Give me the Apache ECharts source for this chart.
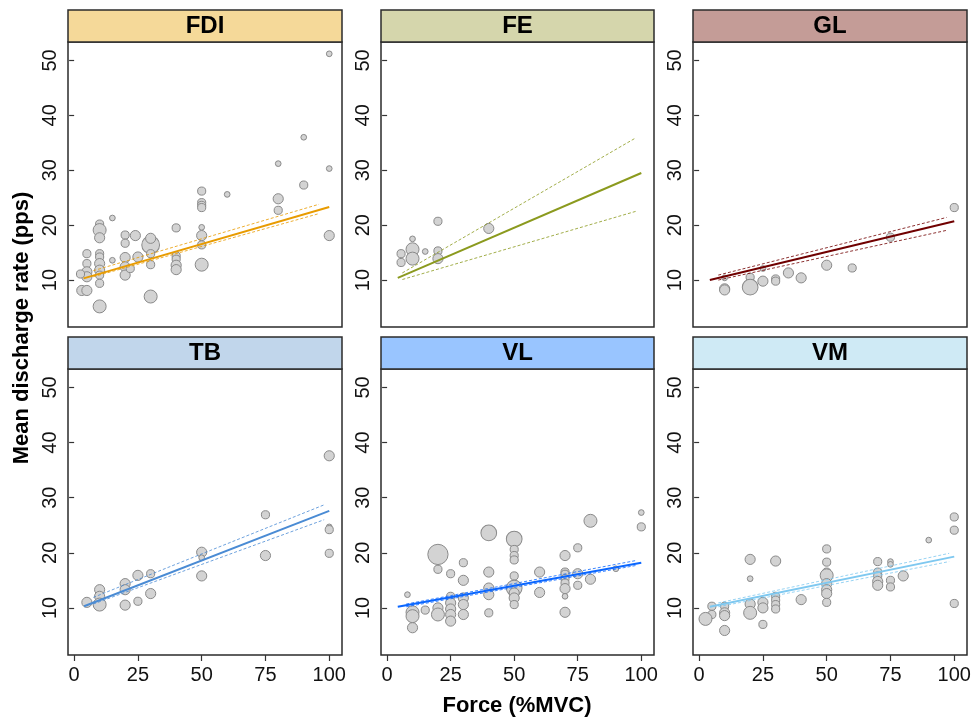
<!DOCTYPE html>
<html>
<head>
<meta charset="utf-8">
<script src="https://cdn.jsdelivr.net/npm/echarts@6/dist/echarts.min.js"></script>
<style>
html,body{margin:0;padding:0;background:#fff;}
#chart{width:973px;height:718px;}
</style>
</head>
<body>
<div id="chart"></div>
<script>
// ---- data ----
const muscles = ['FDI', 'FE', 'GL', 'TB', 'VL', 'VM'];
const xTicks = [0, 25, 50, 75, 100];
const yTicks = [10, 20, 30, 40, 50];

// points: [force %MVC, mean discharge rate pps, weight]
const fdiPoints = [[100,51.2,4],[90,36.0,4],[80,31.2,4],[100,30.3,4],[90,27.3,10],[60,25.6,4],[50,26.2,10],[50,24.1,10],[50,23.6,10],[50,23.2,10],[80,24.8,17],[80,22.7,10],[100,18.1,17],[50,19.6,4],[50,18.1,17],[50,16.4,10],[50,12.8,30],[40,19.5,10],[40,14.4,10],[40,13.8,10],[40,12.7,17],[40,11.9,17],[30,16.4,60],[30,17.6,17],[30,14.8,10],[30,12.8,10],[30,7.0,30],[25,14.2,17],[24,18.1,17],[20,18.2,10],[20,16.7,10],[20,14.1,17],[20,12.4,17],[20,10.9,17],[22,12.1,10],[15,21.3,4],[15,13.6,4],[10,20.2,10],[10,19.1,30],[10,17.7,17],[10,14.8,10],[10,14.2,10],[10,13.0,17],[10,11.8,17],[10,10.9,10],[10,9.4,10],[10,5.2,30],[5,14.8,10],[5,13.0,10],[5,11.5,17],[5,10.6,17],[2.5,11.1,10],[3,8.1,17],[5,8.1,17]];
const fePoints = [[5.5,14.8,10],[5.5,13.2,10],[10,17.5,4],[10,15.6,30],[10,13.9,30],[15,15.2,4],[20,20.7,10],[20,15.3,10],[20,13.9,17],[40,19.4,17]];
const glPoints = [[100,23.2,10],[75,17.8,10],[60,12.2,10],[50,12.7,17],[40,10.4,17],[35,11.3,17],[30,10.2,10],[30,9.8,10],[25,9.8,17],[25,12.1,4],[20,10.5,10],[20,8.7,46],[10,10.4,4],[10,8.4,17],[10,8.2,17]];
const tbPoints = [[100,37.6,17],[100,24.7,4],[100,24.2,10],[100,19.9,10],[75,26.9,10],[75,19.5,17],[50,20.1,17],[50,19.1,4],[50,15.8,17],[30,16.2,10],[30,12.6,17],[25,15.9,17],[25,11.2,10],[20,14.4,17],[20,13.3,17],[20,10.5,17],[10,13.3,17],[10,12.1,17],[10,10.6,30],[5,11.0,17]];
const vlPoints = [[100,27.3,4],[100,24.7,10],[80,25.8,30],[75,20.9,10],[70,19.5,17],[70,16.5,10],[70,16.1,10],[70,15.3,10],[70,14.5,10],[70,13.5,17],[70,12.1,4],[70,9.2,17],[75,16.2,17],[75,14.1,10],[80,15.2,17],[90,17.1,4],[60,16.5,17],[60,12.8,17],[50,22.5,46],[50,20.6,10],[50,19.5,10],[50,18.7,10],[50,15.8,10],[50,13.6,46],[50,12.7,17],[50,11.8,17],[50,10.6,10],[40,23.6,46],[40,16.5,17],[40,13.6,17],[40,12.4,17],[40,9.1,10],[30,18.2,10],[30,15.0,17],[30,11.8,17],[30,10.6,17],[30,8.8,17],[25,16.2,10],[25,12.1,10],[25,10.9,17],[25,9.8,17],[25,8.8,17],[25,7.6,17],[20,19.7,80],[20,17.0,10],[20,10.0,17],[20,8.8,30],[15,9.6,10],[10,9.2,30],[10,8.5,30],[10,6.4,17],[8,12.4,4]];
const vmPoints = [[100,26.5,10],[100,24.1,10],[100,10.8,10],[90,22.3,4],[80,15.8,17],[75,18.4,4],[75,17.9,4],[75,15.0,10],[75,13.8,10],[70,18.4,10],[70,16.5,10],[70,15.8,10],[70,14.8,17],[70,14.1,17],[50,20.7,10],[50,18.3,10],[50,16.5,10],[50,15.9,30],[50,14.4,17],[50,13.3,17],[50,12.6,17],[50,11.0,10],[40,11.5,17],[30,18.5,17],[30,12.1,10],[30,11.4,10],[30,10.6,10],[30,9.8,10],[25,7.0,10],[25,11.0,17],[25,10.0,17],[20,18.8,17],[20,15.3,4],[20,10.7,17],[20,9.1,30],[10,10.3,10],[10,9.1,17],[10,8.6,17],[10,5.9,17],[5,10.3,10],[5,8.8,10],[2.5,8.0,30]];

// fitted lines and confidence bounds: [[x0,y0],[x1,y1]]
const fdiFit = [[3.7,10.3],[100,23.3]], fdiUpper = [[7.5,11.7],[96,23.8]], fdiLower = [[7.5,10.6],[96,22.1]];
const feFit = [[4.2,10.4],[100,29.5]], feUpper = [[6,11.3],[97.5,35.8]], feLower = [[6,10.1],[98.5,22.6]];
const glFit = [[4.2,10.0],[100,20.7]], glUpper = [[7.5,10.9],[97,21.4]], glLower = [[7.5,10.0],[97.5,19.1]];
const tbFit = [[3.9,10.3],[100,27.6]], tbUpper = [[7.5,11.9],[98,28.7]], tbLower = [[7.5,10.7],[98,26.0]];
const vlFit = [[4.2,10.2],[100,18.2]], vlUpper = [[7.5,10.7],[98,18.6]], vlLower = [[7.5,10.2],[98,17.7]];
const vmFit = [[4.2,10.2],[100,19.3]], vmUpper = [[7.5,10.9],[98,19.9]], vmLower = [[7.5,10.2],[98,18.4]];

// ---- styles / layout ----
const panelData = [
  {pts: fdiPoints, fit: fdiFit, up: fdiUpper, lo: fdiLower, strip: '#F5D999', line: '#E89B00'},
  {pts: fePoints, fit: feFit, up: feUpper, lo: feLower, strip: '#D5D6AC', line: '#8B9A1E'},
  {pts: glPoints, fit: glFit, up: glUpper, lo: glLower, strip: '#C49C97', line: '#700000'},
  {pts: tbPoints, fit: tbFit, up: tbUpper, lo: tbLower, strip: '#C1D6EB', line: '#4A8BD4'},
  {pts: vlPoints, fit: vlFit, up: vlUpper, lo: vlLower, strip: '#99C5FF', line: '#0A66FF'},
  {pts: vmPoints, fit: vmFit, up: vmUpper, lo: vmLower, strip: '#CFEAF5', line: '#7EC8F0'}
];
const colLeft = [68, 381, 693];
const colWidth = [274, 273, 274];
const rowTop = [42, 369];
const rowHeight = [285, 286];
const stripH = 32;
const FONT = '"Liberation Sans", Arial, Helvetica, sans-serif';

const grids = [], xAxes = [], yAxes = [], series = [], graphics = [];
panelData.forEach((p, i) => {
  const c = i % 3, r = Math.floor(i / 3);
  grids.push({left: colLeft[c], top: rowTop[r], width: colWidth[c], height: rowHeight[r],
    show: true, borderColor: '#2b2b2b', borderWidth: 1.5, backgroundColor: '#fff',
    containLabel: false, outerBoundsMode: 'none'});
  xAxes.push({type: 'value', gridIndex: i, min: -2.4, max: 105,
    splitLine: {show: false}, axisLine: {show: false},
    axisTick: {show: r === 1, length: 6, customValues: xTicks, lineStyle: {color: '#333', width: 1.2}},
    axisLabel: {show: r === 1, customValues: xTicks, fontSize: 20, color: '#111', fontFamily: FONT, margin: 10}});
  yAxes.push({type: 'value', gridIndex: i, min: 1.45, max: 53.35,
    splitLine: {show: false}, axisLine: {show: false},
    axisTick: {show: true, length: 5, customValues: yTicks, lineStyle: {color: '#333', width: 1.2}},
    axisLabel: {show: true, customValues: yTicks, rotate: 90, fontSize: 20, color: '#111', fontFamily: FONT, margin: 8}});
  series.push({type: 'scatter', xAxisIndex: i, yAxisIndex: i, data: p.pts,
    symbolSize: v => 1.5 + 2.1 * Math.sqrt(v[2]),
    itemStyle: {color: '#D3D3D3', borderColor: '#8A8A8A', borderWidth: 1, opacity: 1},
    z: 2, silent: true});
  [[p.up, 'dashed'], [p.lo, 'dashed'], [p.fit, 'solid']].forEach(([d, t]) => {
    series.push({type: 'line', xAxisIndex: i, yAxisIndex: i, data: d, showSymbol: false, silent: true,
      z: t === 'solid' ? 4 : 3,
      lineStyle: t === 'solid' ? {color: p.line, width: 2} : {color: p.line, width: 1, type: [3, 2], opacity: 0.8}});
  });
  graphics.push({type: 'rect', shape: {x: colLeft[c], y: rowTop[r] - stripH, width: colWidth[c], height: stripH},
    style: {fill: p.strip, stroke: '#2b2b2b', lineWidth: 1.5}, z: 10});
  graphics.push({type: 'text', x: colLeft[c] + colWidth[c] / 2, y: rowTop[r] - stripH / 2,
    style: {text: muscles[i], font: 'bold 24px ' + FONT, fill: '#000', textAlign: 'center', textVerticalAlign: 'middle'}, z: 11});
});
graphics.push({type: 'text', x: 517, y: 706,
  style: {text: 'Force (%MVC)', font: 'bold 22px ' + FONT, fill: '#000', textAlign: 'center', textVerticalAlign: 'middle'}});
graphics.push({type: 'text', x: 22, y: 328, rotation: Math.PI / 2,
  style: {text: 'Mean discharge rate (pps)', font: 'bold 22px ' + FONT, fill: '#000', textAlign: 'center', textVerticalAlign: 'middle'}});

const chart = echarts.init(document.getElementById('chart'), null, {renderer: 'canvas'});
chart.setOption({
  animation: false,
  backgroundColor: '#fff',
  grid: grids, xAxis: xAxes, yAxis: yAxes, series: series, graphic: graphics
});
</script>
</body>
</html>
